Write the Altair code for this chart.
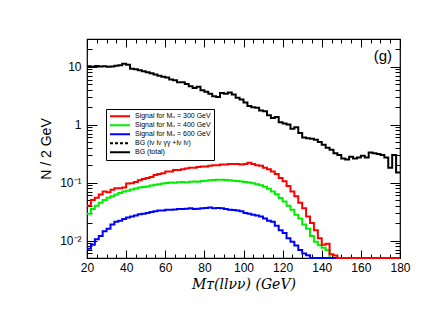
import altair as alt
import pandas as pd

# bin left edges (2 GeV bins from 20 to 180)
edges = list(range(20, 180, 2))

bg_total = [10.2, 10.0, 10.3, 10.1, 10.2, 10.0, 10.1, 10.4, 10.6, 11.2,
            10.8, 9.2, 9.0, 8.7, 8.3, 8.0, 7.7, 7.3, 7.0, 6.7,
            6.5, 6.0, 5.8, 5.4, 5.4, 5.0, 4.6, 4.3, 4.5, 3.9,
            3.7, 3.4, 3.1, 3.0, 3.5, 3.4, 3.6, 3.3, 2.9, 2.7,
            2.4, 2.1, 2.0, 1.95, 1.75, 1.7, 1.45, 1.3, 1.35, 1.1,
            1.05, 1.0, 0.85, 0.9, 0.72, 0.6, 0.58, 0.57, 0.55, 0.5,
            0.45, 0.4, 0.37, 0.32, 0.3, 0.26, 0.25, 0.28, 0.26, 0.27,
            0.29, 0.27, 0.33, 0.32, 0.31, 0.3, 0.27, 0.18, 0.3, 0.15]

sig300 = [0.040, 0.050, 0.055, 0.062, 0.070, 0.068, 0.075, 0.080, 0.080, 0.082,
          0.096, 0.097, 0.102, 0.110, 0.115, 0.120, 0.125, 0.135, 0.140, 0.145,
          0.155, 0.155, 0.165, 0.165, 0.170, 0.175, 0.180, 0.180, 0.185, 0.190,
          0.190, 0.195, 0.200, 0.200, 0.205, 0.205, 0.210, 0.210, 0.210, 0.205,
          0.210, 0.220, 0.210, 0.200, 0.195, 0.180, 0.170, 0.155, 0.140, 0.120,
          0.105, 0.087, 0.070, 0.058, 0.045, 0.036, 0.026, 0.020, 0.015, 0.011,
          0.0085, 0.0088, 0.0058, 0.0055, 0.005, 0.005, 0.005, 0.005, 0.005, 0.005,
          0.005, 0.005, 0.005, 0.005, 0.005, 0.005, 0.005, 0.005, 0.005, 0.005]

sig400 = [0.029, 0.035, 0.040, 0.045, 0.050, 0.055, 0.058, 0.062, 0.066, 0.070,
          0.072, 0.076, 0.079, 0.082, 0.084, 0.086, 0.089, 0.092, 0.094, 0.096,
          0.098, 0.100, 0.099, 0.101, 0.102, 0.100, 0.103, 0.104, 0.103, 0.106,
          0.108, 0.110, 0.111, 0.112, 0.112, 0.111, 0.110, 0.108, 0.106, 0.104,
          0.102, 0.100, 0.097, 0.094, 0.090, 0.085, 0.078, 0.070, 0.063, 0.054,
          0.047, 0.040, 0.034, 0.028, 0.024, 0.019, 0.016, 0.012, 0.0095, 0.0083,
          0.0075, 0.0068, 0.005, 0.005, 0.005, 0.005, 0.005, 0.005, 0.005, 0.005,
          0.005, 0.005, 0.005, 0.005, 0.005, 0.005, 0.005, 0.005, 0.005, 0.005]

sig600 = [0.0072, 0.0085, 0.0105, 0.012, 0.0145, 0.016, 0.019, 0.021, 0.022, 0.0235,
          0.025, 0.026, 0.027, 0.0285, 0.029, 0.030, 0.031, 0.032, 0.033, 0.033,
          0.034, 0.034, 0.0345, 0.035, 0.035, 0.0355, 0.036, 0.035, 0.0355, 0.036,
          0.0365, 0.037, 0.036, 0.0365, 0.036, 0.035, 0.034, 0.0335, 0.033, 0.032,
          0.030, 0.029, 0.028, 0.027, 0.026, 0.024, 0.022, 0.021, 0.018, 0.015,
          0.0135, 0.011, 0.0095, 0.0082, 0.0069, 0.006, 0.0056, 0.005, 0.005, 0.005,
          0.005, 0.005, 0.005, 0.005, 0.005, 0.005, 0.005, 0.005, 0.005, 0.005,
          0.005, 0.005, 0.005, 0.005, 0.005, 0.005, 0.005, 0.005, 0.005, 0.005]

names = ["Signal for Mᵤ = 300 GeV", "Signal for Mᵤ = 400 GeV",
         "Signal for Mᵤ = 600 GeV", "BG (lν lν γγ +lν lν)", "BG (total)"]
colors = ["#ff0000", "#00ee00", "#0000ff", "#000000", "#000000"]
dashes = [[1, 0], [1, 0], [1, 0], [3, 2], [1, 0]]

x_major = [20, 40, 60, 80, 100, 120, 140, 160, 180]
x_all_ticks = list(range(20, 181, 5))
y_label_values = [0.01, 0.1, 1, 10]
y_all_ticks = [round(m * 10.0 ** e, 8) for e in range(-3, 2) for m in range(1, 10)
               if 0.005 <= m * 10.0 ** e <= 30.0001]

# Build long table (repeat last value at the right edge for step drawing)
rows = []
for name, vals in [(names[4], bg_total), (names[1], sig400), (names[2], sig600), (names[0], sig300)]:
    for xe, v in zip(edges + [180], vals + [vals[-1]]):
        rows.append({"x": xe, "y": v, "series": name})
df = pd.DataFrame(rows)

W, H = 313, 219
xscale = alt.Scale(domain=[20, 180], nice=False, zero=False)
yscale = alt.Scale(type="log", domain=[0.005, 30], nice=False)

legend_cfg = dict(orient="none", legendX=19, legendY=70, title=None,
                  strokeColor="black", fillColor="white", padding=3,
                  symbolType="stroke", symbolSize=400, symbolStrokeWidth=2,
                  labelFontSize=7, labelFont="Liberation Sans", rowPadding=0,
                  clipHeight=8.5, labelOffset=4, cornerRadius=0)

base = alt.Chart(df)

lines = base.mark_line(interpolate="step-after", strokeWidth=2).encode(
    x=alt.X("x:Q", scale=xscale,
            axis=alt.Axis(orient="bottom", values=x_major, ticks=False, domain=False, grid=False,
                          format="d", labelFontSize=12, labelFont="Liberation Sans", labelPadding=4,
                          labelFlush=False,
                          title="Mᴛ(llνν) (GeV)", titleFontSize=14, titleFont="DejaVu Serif",
                          titleFontWeight="normal", titleFontStyle="italic", titlePadding=4)),
    y=alt.Y("y:Q", scale=yscale,
            axis=alt.Axis(orient="left", values=y_label_values, ticks=False, domain=False, grid=False,
                          labelExpr="datum.value >= 1 ? format(datum.value, 'd') : (datum.value < 0.05 ? '10⁻²' : '10⁻¹')",
                          labelFontSize=12, labelFont="Liberation Sans", labelPadding=6,
                          labelFlush=False,
                          title="N / 2 GeV", titleFontSize=14, titleFont="Liberation Sans",
                          titleFontWeight="normal", titlePadding=6)),
    color=alt.Color("series:N", scale=alt.Scale(domain=names, range=colors),
                    legend=alt.Legend(**legend_cfg)),
    strokeDash=alt.StrokeDash("series:N", scale=alt.Scale(domain=names, range=dashes),
                              legend=alt.Legend(**legend_cfg)),
)

x_tick_size = {"condition": {"test": "datum.value % 20 === 0", "value": 8}, "value": 4}
y_tick_size = {"condition": {"test": "abs(log(datum.value)/LN10 - round(log(datum.value)/LN10)) < 0.001",
                             "value": 10}, "value": 5}

ticks_a = base.mark_line(opacity=0).encode(
    x=alt.X("x:Q", scale=xscale,
            axis=alt.Axis(orient="top", offset=-H, values=x_all_ticks, labels=False, domain=False,
                          grid=False, title=None, tickSize=x_tick_size, tickColor="black")),
    y=alt.Y("y:Q", scale=yscale,
            axis=alt.Axis(orient="right", offset=-W, values=y_all_ticks, labels=False, domain=False,
                          grid=False, title=None, tickSize=y_tick_size, tickColor="black")),
)
ticks_b = base.mark_line(opacity=0).encode(
    x=alt.X("x:Q", scale=xscale,
            axis=alt.Axis(orient="bottom", offset=-H, values=x_all_ticks, labels=False, domain=False,
                          grid=False, title=None, tickSize=x_tick_size, tickColor="black")),
    y=alt.Y("y:Q", scale=yscale,
            axis=alt.Axis(orient="left", offset=-W, values=y_all_ticks, labels=False, domain=False,
                          grid=False, title=None, tickSize=y_tick_size, tickColor="black")),
)

label_df = pd.DataFrame({"t": ["(g)"]})
glabel = alt.Chart(label_df).mark_text(fontSize=15, font="Liberation Sans", align="right",
                                       baseline="middle").encode(
    x=alt.value(W - 8), y=alt.value(17), text="t:N")

chart = alt.layer(lines, ticks_a, ticks_b, glabel).resolve_axis(
    x="independent", y="independent"
).properties(
    width=W, height=H,
    padding={"left": 31, "top": 30, "right": 5, "bottom": 5},
    background="white",
).configure_view(stroke="black", strokeWidth=1.2)

chart.save("out.html", embed_options={"renderer": "svg", "actions": False})
